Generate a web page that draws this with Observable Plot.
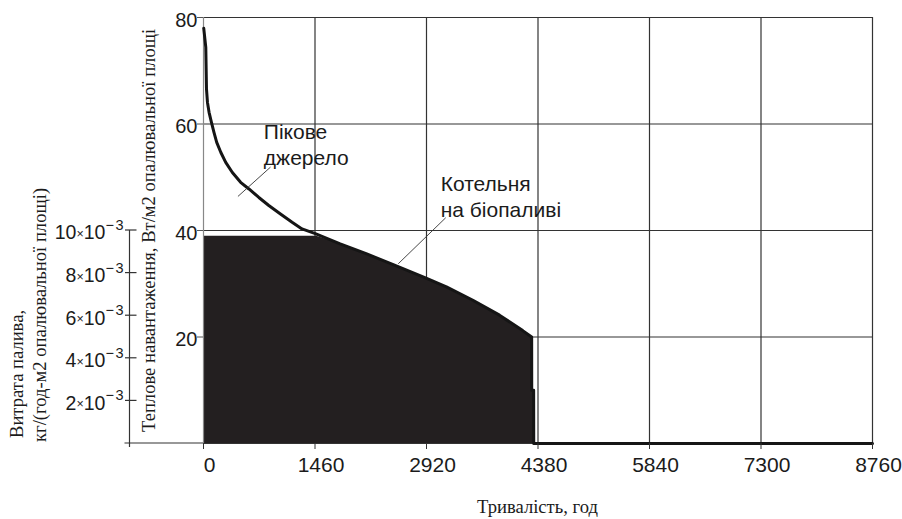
<!DOCTYPE html>
<html><head><meta charset="utf-8">
<script src="https://cdn.jsdelivr.net/npm/d3@7"></script>
<script src="https://cdn.jsdelivr.net/npm/@observablehq/plot@0.6"></script>
<style>html,body{margin:0;padding:0;background:#fff}svg{display:block}</style>
</head><body><div id="chart"></div>
<script>
// Load duration curve (total heat load, W/m2) vs duration (h)
const hours    = [3, 30, 39, 52, 73, 104, 138, 173, 226, 291, 378, 486, 595, 725, 855, 1008, 1160, 1290, 1464, 1790, 2138, 2485, 2907, 3181, 3528, 3876, 4180, 4297, 4298, 4323, 4324, 8760];
const heatLoad = [78, 74.4, 66.6, 64.05, 62.2, 60.3, 58.4, 56.55, 54.7, 52.8, 50.9, 49.05, 47.8, 46.2, 44.7, 43.1, 41.55, 40.3, 39.4, 37.5, 35.6, 33.6, 31.1, 29.4, 26.9, 24.1, 21.2, 20.0, 10, 10, 0, 0];
// Biofuel boiler share (filled area)
const boilerHours = [0, 1480, 1790, 2138, 2485, 2907, 3181, 3528, 3876, 4180, 4297, 4298, 4323, 4324];
const boilerLoad  = [38.9, 38.9, 37.5, 35.6, 33.6, 31.1, 29.4, 26.9, 24.1, 21.2, 20.0, 10, 10, 0];
// Axes
const xTicks = [0, 1460, 2920, 4380, 5840, 7300, 8760];
const yTicks = [20, 40, 60, 80];
const fuelTicks = [2, 4, 6, 8, 10];          // mantissas of ×10^-3 kg/(h·m2)
const fuelExponent = "\u22123";
const loadPerFuelUnit = 4;                   // 10×10^-3 ↔ 40 W/m2
const xTitle = "Тривалість, год";
const yTitle = "Теплове навантаження, Вт/м2 опалювальної площі";
const fuelTitle1 = "Витрата палива,";
const fuelTitle2 = "кг/(год-м2 опалювальної площі)";
// Annotations
const noteText  = ["Пікове\nджерело", "Котельня\nна біопаливі"];
const noteHours = [790, 3106];
const noteLoad  = [60.6, 50.9];
const leadX1 = [877, 3172];
const leadY1 = [51.9, 42.4];
const leadX2 = [451, 2550];
const leadY2 = [46.4, 33.75];

const curve  = hours.map((h, i) => ({h, v: heatLoad[i]}));
const boiler = boilerHours.map((h, i) => ({h, v: boilerLoad[i]}));
const notes  = noteText.map((t, i) => ({t, h: noteHours[i], v: noteLoad[i]}));
const leads  = leadX1.map((x1, i) => ({x1, y1: leadY1[i], x2: leadX2[i], y2: leadY2[i]}));

const serif = "'Liberation Serif','Times New Roman',serif";
const ink = "#1b1b1b";

function extras(index, scales) {
  const {x, y} = scales;
  const g = d3.create("svg:g");
  const x0 = x(0), xEnd = x(8760), yBase = y(0);
  const ax = x0 - 73.5;
  // secondary axis line + baseline extension
  g.append("line").attr("x1", ax).attr("x2", ax).attr("y1", y(fuelTicks[fuelTicks.length-1]*loadPerFuelUnit)).attr("y2", yBase + 4)
    .attr("stroke", "#333").attr("stroke-width", 1.2);
  g.append("line").attr("x1", ax - 5).attr("x2", x0).attr("y1", yBase).attr("y2", yBase)
    .attr("stroke", "#333").attr("stroke-width", 1.2);
  for (const m of fuelTicks) {
    const yy = y(m * loadPerFuelUnit);
    g.append("line").attr("x1", ax - 4.5).attr("x2", ax + 7).attr("y1", yy).attr("y2", yy)
      .attr("stroke", "#333").attr("stroke-width", 1.2);
    const t = g.append("text").attr("x", ax - 4.5).attr("y", yy + 9.4)
      .attr("text-anchor", "end").attr("fill", ink)
      .attr("font-family", "'Liberation Sans',Arial,sans-serif");
    t.append("tspan").attr("font-size", 19.5).text(String(m));
    t.append("tspan").attr("font-size", 12.5).attr("dy", -1.5).text("×");
    t.append("tspan").attr("font-size", 19.5).attr("dy", 1.5).text("10");
    t.append("tspan").attr("font-size", 14.5).attr("dy", -9.4).attr("letter-spacing", 1.5).text(fuelExponent);
  }
  // titles
  g.append("text").attr("x", (x0 + xEnd) / 2).attr("y", yBase + 70).attr("text-anchor", "middle")
    .attr("font-family", serif).attr("font-size", 18.6).attr("fill", ink).text(xTitle);
  const rot = (tx, ty, s) => g.append("text").attr("transform", `translate(${tx},${ty}) rotate(-90)`)
    .attr("text-anchor", "start")
    .attr("font-family", serif).attr("font-size", 18.6).attr("fill", ink).text(s);
  rot(x0 - 48, yBase - 11, yTitle);
  rot(23, yBase - 5, fuelTitle1);
  rot(46, yBase - 1, fuelTitle2);
  return g.node();
}

const plot = Plot.plot({
  width: 902, height: 519,
  marginLeft: 203, marginRight: 30, marginTop: 17, marginBottom: 76,
  x: {domain: [0, 8760]},
  y: {domain: [0, 80]},
  style: {fontFamily: "'Liberation Sans',Arial,sans-serif", background: "#fff", color: ink, overflow: "visible"},
  marks: [
    Plot.gridX(xTicks.slice(1), {stroke: "#333", strokeOpacity: 1, strokeWidth: 1.2}),
    Plot.gridY(yTicks, {stroke: "#333", strokeOpacity: 1, strokeWidth: 1.2}),
    Plot.areaY(boiler, {x: "h", y: "v", fill: "#231f20"}),
    Plot.ruleX([0], {stroke: "#888", strokeWidth: 1.2}),
    Plot.ruleY([0], {stroke: "#333", strokeWidth: 1.2}),
    Plot.line(curve, {x: "h", y: "v", stroke: "#151515", strokeWidth: 3}),
    Plot.axisX({ticks: xTicks, tickSize: 6, fill: "none", stroke: "#333", label: null}),
    Plot.axisX({ticks: xTicks, tickSize: 6, tickPadding: 8, stroke: "none", fill: ink, fontSize: 21, dx: 6, label: null, tickFormat: d3.format("d")}),
    Plot.axisY({ticks: yTicks, tickSize: 6, fill: "none", stroke: "#555", label: null}),
    Plot.axisY({ticks: yTicks, tickSize: 6, tickPadding: 0, stroke: "none", fill: ink, fontSize: 20, dy: 3, label: null}),
    Plot.link(leads, {x1: "x1", y1: "y1", x2: "x2", y2: "y2", stroke: "#333", strokeWidth: 0.9}),
    Plot.text(notes, {x: "h", y: "v", text: "t", textAnchor: "start", lineAnchor: "top", lineHeight: 1.24, fontSize: 21, fill: ink}),
    extras
  ]
});
document.getElementById("chart").appendChild(plot);
</script>
</body></html>
